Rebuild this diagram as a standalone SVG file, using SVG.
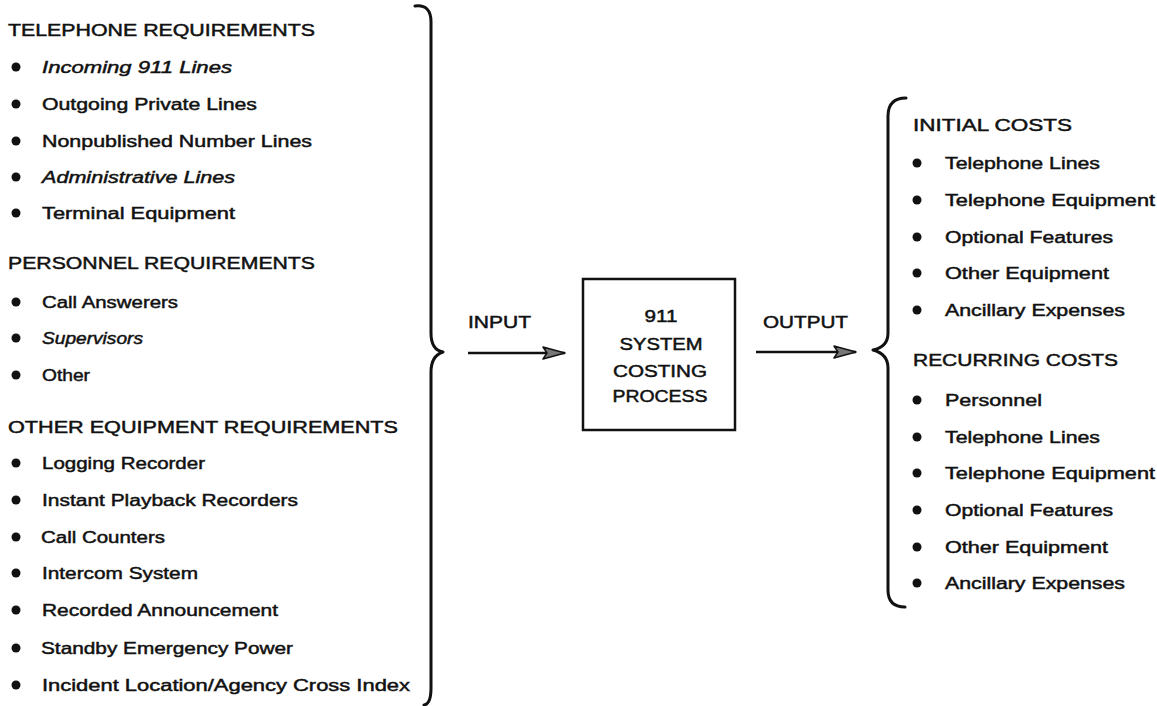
<svg xmlns="http://www.w3.org/2000/svg" width="1157" height="706" viewBox="0 0 1157 706">
<defs>
<style>
text{font-family:"Liberation Sans",Arial,sans-serif;font-size:16px;fill:#111;stroke:#111;stroke-width:0.45}
.it{font-style:italic}
.c{text-anchor:middle}
.b{fill:#111}
.brace{fill:none;stroke:#111;stroke-width:3;stroke-linecap:round;stroke-linejoin:round}
.arr{stroke:#111;stroke-width:2.5;fill:none}
</style>
<marker id="ah" viewBox="0 0 24 16" refX="23" refY="8" markerWidth="24" markerHeight="16" markerUnits="userSpaceOnUse" orient="auto">
<path d="M1,2 L23,8 L1,14 L5,8 Z" fill="#777" stroke="#111" stroke-width="1.5" stroke-linejoin="round"/>
</marker>
</defs>
<rect width="1157" height="706" fill="#fff"/>

<g id="inputs">
<text x="8" y="36" textLength="307" lengthAdjust="spacingAndGlyphs">TELEPHONE REQUIREMENTS</text>
<circle class="b" cx="16" cy="67" r="4.5"/><text class="it" x="42" y="73" textLength="190" lengthAdjust="spacingAndGlyphs">Incoming 911 Lines</text>
<circle class="b" cx="16" cy="104" r="4.5"/><text x="42" y="110" textLength="215" lengthAdjust="spacingAndGlyphs">Outgoing Private Lines</text>
<circle class="b" cx="16" cy="141" r="4.5"/><text x="42" y="147" textLength="270" lengthAdjust="spacingAndGlyphs">Nonpublished Number Lines</text>
<circle class="b" cx="16" cy="177" r="4.5"/><text class="it" x="42" y="183" textLength="193" lengthAdjust="spacingAndGlyphs">Administrative Lines</text>
<circle class="b" cx="16" cy="213" r="4.5"/><text x="42" y="219" textLength="193" lengthAdjust="spacingAndGlyphs">Terminal Equipment</text>

<text x="8" y="269" textLength="307" lengthAdjust="spacingAndGlyphs">PERSONNEL REQUIREMENTS</text>
<circle class="b" cx="16" cy="302" r="4.5"/><text x="42" y="308" textLength="136" lengthAdjust="spacingAndGlyphs">Call Answerers</text>
<circle class="b" cx="16" cy="338" r="4.5"/><text class="it" x="42" y="344" textLength="101" lengthAdjust="spacingAndGlyphs">Supervisors</text>
<circle class="b" cx="16" cy="375" r="4.5"/><text x="42" y="381" textLength="48" lengthAdjust="spacingAndGlyphs">Other</text>

<text x="8" y="433" textLength="390" lengthAdjust="spacingAndGlyphs">OTHER EQUIPMENT REQUIREMENTS</text>
<circle class="b" cx="16" cy="463" r="4.5"/><text x="42" y="469" textLength="163" lengthAdjust="spacingAndGlyphs">Logging Recorder</text>
<circle class="b" cx="16" cy="500" r="4.5"/><text x="42" y="506" textLength="256" lengthAdjust="spacingAndGlyphs">Instant Playback Recorders</text>
<circle class="b" cx="16" cy="537" r="4.5"/><text x="41" y="543" textLength="124" lengthAdjust="spacingAndGlyphs">Call Counters</text>
<circle class="b" cx="16" cy="573" r="4.5"/><text x="42" y="579" textLength="156" lengthAdjust="spacingAndGlyphs">Intercom System</text>
<circle class="b" cx="16" cy="610" r="4.5"/><text x="42" y="616" textLength="236" lengthAdjust="spacingAndGlyphs">Recorded Announcement</text>
<circle class="b" cx="16" cy="648" r="4.5"/><text x="41" y="654" textLength="252" lengthAdjust="spacingAndGlyphs">Standby Emergency Power</text>
<circle class="b" cx="16" cy="685" r="4.5"/><text x="42" y="691" textLength="368" lengthAdjust="spacingAndGlyphs">Incident Location/Agency Cross Index</text>
</g>

<g id="input-brace">
<path class="brace" d="M415,6 Q431,4 431,22 L431,333 Q431,350 443,352 Q431,356 431,372 L431,688 Q431,704 424,705"/>
</g>

<g id="process">
<rect x="583" y="279" width="152" height="151" fill="none" stroke="#111" stroke-width="2.5"/>
<text class="c" x="661" y="322" textLength="33" lengthAdjust="spacingAndGlyphs">911</text>
<text class="c" x="661" y="350" textLength="83" lengthAdjust="spacingAndGlyphs">SYSTEM</text>
<text class="c" x="660" y="377" textLength="94" lengthAdjust="spacingAndGlyphs">COSTING</text>
<text class="c" x="660" y="402" textLength="95" lengthAdjust="spacingAndGlyphs">PROCESS</text>
</g>

<g id="connectors">
<text x="468" y="328" textLength="63" lengthAdjust="spacingAndGlyphs">INPUT</text>
<line class="arr" x1="468" y1="353" x2="565" y2="353" marker-end="url(#ah)"/>
<text x="763" y="328" textLength="85" lengthAdjust="spacingAndGlyphs">OUTPUT</text>
<line class="arr" x1="756" y1="352" x2="856" y2="352" marker-end="url(#ah)"/>
</g>

<g id="output-brace">
<path class="brace" d="M906,98 Q888,98 888,116 L888,333 Q888,347 873,350 Q888,354 888,368 L888,590 Q888,607 905,607"/>
</g>

<g id="outputs">
<text x="913" y="131" textLength="159" lengthAdjust="spacingAndGlyphs">INITIAL COSTS</text>
<circle class="b" cx="917" cy="163" r="4.5"/><text x="945" y="169" textLength="155" lengthAdjust="spacingAndGlyphs">Telephone Lines</text>
<circle class="b" cx="917" cy="200" r="4.5"/><text x="945" y="206" textLength="210" lengthAdjust="spacingAndGlyphs">Telephone Equipment</text>
<circle class="b" cx="917" cy="237" r="4.5"/><text x="945" y="243" textLength="168" lengthAdjust="spacingAndGlyphs">Optional Features</text>
<circle class="b" cx="917" cy="273" r="4.5"/><text x="945" y="279" textLength="164" lengthAdjust="spacingAndGlyphs">Other Equipment</text>
<circle class="b" cx="917" cy="310" r="4.5"/><text x="945" y="316" textLength="180" lengthAdjust="spacingAndGlyphs">Ancillary Expenses</text>

<text x="913" y="366" textLength="205" lengthAdjust="spacingAndGlyphs">RECURRING COSTS</text>
<circle class="b" cx="917" cy="400" r="4.5"/><text x="945" y="406" textLength="97" lengthAdjust="spacingAndGlyphs">Personnel</text>
<circle class="b" cx="917" cy="437" r="4.5"/><text x="945" y="443" textLength="155" lengthAdjust="spacingAndGlyphs">Telephone Lines</text>
<circle class="b" cx="917" cy="473" r="4.5"/><text x="945" y="479" textLength="210" lengthAdjust="spacingAndGlyphs">Telephone Equipment</text>
<circle class="b" cx="917" cy="510" r="4.5"/><text x="945" y="516" textLength="168" lengthAdjust="spacingAndGlyphs">Optional Features</text>
<circle class="b" cx="917" cy="547" r="4.5"/><text x="945" y="553" textLength="163" lengthAdjust="spacingAndGlyphs">Other Equipment</text>
<circle class="b" cx="917" cy="583" r="4.5"/><text x="945" y="589" textLength="180" lengthAdjust="spacingAndGlyphs">Ancillary Expenses</text>
</g>
</svg>
